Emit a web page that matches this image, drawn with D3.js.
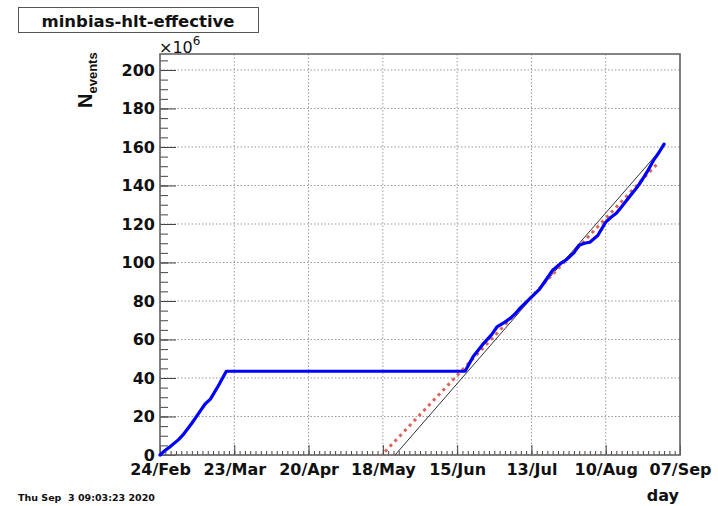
<!DOCTYPE html>
<html>
<head>
<meta charset="utf-8">
<script src="https://cdn.jsdelivr.net/npm/d3@7"></script>
<style>
    body { margin: 0; background: #fff; }
    text { font-family: "DejaVu Sans", sans-serif; font-weight: bold; fill: #111; }
</style>
</head>
<body>
<main></main>
<script>
//Tamaño del svg
const w = 718;
const h = 506;

// Datos: fechas y eventos acumulados (x10^6)
const fechas = ["2020-02-24", "2020-02-26", "2020-02-28", "2020-03-02", "2020-03-04", "2020-03-07",
    "2020-03-10", "2020-03-12", "2020-03-14", "2020-03-17", "2020-03-20", "2020-06-18",
    "2020-06-21", "2020-06-23", "2020-06-25", "2020-06-28", "2020-06-30", "2020-07-03",
    "2020-07-05", "2020-07-07", "2020-07-09", "2020-07-13", "2020-07-16", "2020-07-18",
    "2020-07-21", "2020-07-24", "2020-07-26", "2020-07-29", "2020-07-31", "2020-08-02",
    "2020-08-04", "2020-08-07", "2020-08-10", "2020-08-12", "2020-08-14", "2020-08-16",
    "2020-08-18", "2020-08-20", "2020-08-22", "2020-08-24", "2020-08-26", "2020-08-28",
    "2020-08-30", "2020-09-01"];
const eventos = [0, 2.5, 4.5, 8, 11, 16.5,
    22.5, 26.5, 29, 36, 43.5, 43.5,
    51, 54.5, 58, 62.5, 66.5, 69,
    71, 73.5, 76.7, 82, 86, 90,
    96, 99.5, 101.3, 105, 109, 110,
    110.5, 114, 121, 123.5, 125.6, 129,
    132.5, 136, 139.4, 143.5, 148, 153,
    157, 161.5];

// Ajuste lineal (rojo) y referencia (negra)
const fitFechas = ["2020-05-17", "2020-08-30"];
const fitValores = [-0.9, 152.1];
const refFechas = ["2020-05-22", "2020-09-01"];
const refValores = [-0.95, 160.6];

// Etiquetas de los ejes
const ticksX = ["2020-02-24", "2020-03-23", "2020-04-20", "2020-05-18", "2020-06-15",
    "2020-07-13", "2020-08-10", "2020-09-07"];
const ticksY = [0, 20, 40, 60, 80, 100, 120, 140, 160, 180, 200];

const parse = d3.timeParse("%Y-%m-%d");

var svg = d3.select('main')
    .append('svg')
    .attr('width', w)
    .attr('height', h);

// Escalas
const x = d3.scaleTime()
    .domain([parse("2020-02-24"), parse("2020-09-07")])
    .range([160, 680]);

const y = d3.scaleLinear()
    .domain([0, 208.3])
    .range([455, 54]);

svg.append('clipPath')
    .attr('id', 'marco')
    .append('rect')
    .attr('x', 160).attr('y', 54)
    .attr('width', 520).attr('height', 401);

// Rejilla punteada
svg.append('g')
    .selectAll('line')
    .data(ticksY)
    .enter()
    .append('line')
    .attr('x1', 160).attr('x2', 680)
    .attr('y1', (d) => y(d)).attr('y2', (d) => y(d))
    .attr('stroke', '#999')
    .attr('stroke-dasharray', '1.5,2');

svg.append('g')
    .selectAll('line')
    .data(ticksX)
    .enter()
    .append('line')
    .attr('x1', (d) => x(parse(d))).attr('x2', (d) => x(parse(d)))
    .attr('y1', 54).attr('y2', 455)
    .attr('stroke', '#999')
    .attr('stroke-dasharray', '1.5,2');

// Ticks menores
const menoresX = d3.timeDay.range(parse("2020-02-24"), parse("2020-09-07"), 2);
svg.append('g')
    .attr('transform', 'translate(0,455)')
    .call(d3.axisBottom(x).tickValues(menoresX).tickSize(-4).tickFormat(''))
    .call((g) => g.select('.domain').remove())
    .selectAll('line').attr('stroke', '#444');

const menoresY = d3.range(0, 208, 5);
svg.append('g')
    .attr('transform', 'translate(160,0)')
    .call(d3.axisLeft(y).tickValues(menoresY).tickSize(-8).tickFormat(''))
    .call((g) => g.select('.domain').remove())
    .selectAll('line').attr('stroke', '#444');

// Ejes principales
var ejeX = svg.append('g')
    .attr('transform', 'translate(0,455)')
    .call(d3.axisBottom(x)
        .tickValues(ticksX.map(parse))
        .tickSize(-10)
        .tickPadding(9)
        .tickFormat(d3.timeFormat("%d/%b")));
ejeX.select('.domain').remove();
ejeX.selectAll('line').attr('stroke', '#444');
ejeX.selectAll('text')
    .style('font-size', '16px')
    .style('font-family', '"DejaVu Sans", sans-serif')
    .attr('fill', '#111');

var ejeY = svg.append('g')
    .attr('transform', 'translate(160,0)')
    .call(d3.axisLeft(y)
        .tickValues(ticksY)
        .tickSize(-16)
        .tickPadding(5));
ejeY.select('.domain').remove();
ejeY.selectAll('line').attr('stroke', '#444');
ejeY.selectAll('text')
    .style('font-size', '16px')
    .style('font-family', '"DejaVu Sans", sans-serif')
    .attr('fill', '#111');

// Marco
svg.append('rect')
    .attr('x', 160).attr('y', 54)
    .attr('width', 520).attr('height', 401)
    .attr('fill', 'none')
    .attr('stroke', '#666')
    .attr('stroke-width', 1.6);

// Lineas
const linea = d3.line()
    .x((d) => x(d[0]))
    .y((d) => y(d[1]));

svg.append('path')
    .datum(refFechas.map((d, i) => [parse(d), refValores[i]]))
    .attr('clip-path', 'url(#marco)')
    .attr('d', linea)
    .attr('fill', 'none')
    .attr('stroke', '#333')
    .attr('stroke-width', 1);

svg.append('path')
    .datum(fitFechas.map((d, i) => [parse(d), fitValores[i]]))
    .attr('clip-path', 'url(#marco)')
    .attr('d', linea)
    .attr('fill', 'none')
    .attr('stroke', '#e0605a')
    .attr('stroke-width', 3)
    .attr('stroke-dasharray', '3,4');

svg.append('path')
    .datum(fechas.map((d, i) => [parse(d), eventos[i]]))
    .attr('d', linea)
    .attr('fill', 'none')
    .attr('stroke', '#0000ff')
    .attr('stroke-width', 3.2)
    .attr('stroke-linejoin', 'round')
    .attr('stroke-linecap', 'round');

// Titulo
svg.append('rect')
    .attr('x', 18.5).attr('y', 7.5)
    .attr('width', 240).attr('height', 25)
    .attr('fill', '#fff')
    .attr('stroke', '#555');

svg.append('text')
    .attr('x', 138).attr('y', 27)
    .attr('text-anchor', 'middle')
    .style('font-size', '16.5px')
    .text('minbias-hlt-effective');

// x10^6
var exp = svg.append('text')
    .attr('x', 159).attr('y', 53)
    .style('font-size', '16px')
    .style('font-weight', 'normal');
exp.append('tspan').text('\u00d710');
exp.append('tspan').attr('dy', -8).style('font-size', '12px').text('6');

// Etiqueta eje Y
var etiY = svg.append('text')
    .attr('transform', 'translate(92,108) rotate(-90)')
    .style('font-family', '"Liberation Sans", sans-serif');
etiY.append('tspan').style('font-size', '20px').text('N');
etiY.append('tspan').attr('dy', 5).style('font-size', '13px').text('events');

// Etiqueta eje X
svg.append('text')
    .attr('x', 679).attr('y', 501)
    .attr('text-anchor', 'end')
    .style('font-size', '16px')
    .text('day');

// Fecha
svg.append('text')
    .attr('x', 18).attr('y', 501)
    .style('font-size', '9.5px')
    .style('white-space', 'pre')
    .text('Thu Sep  3 09:03:23 2020');
</script>
</body>
</html>
